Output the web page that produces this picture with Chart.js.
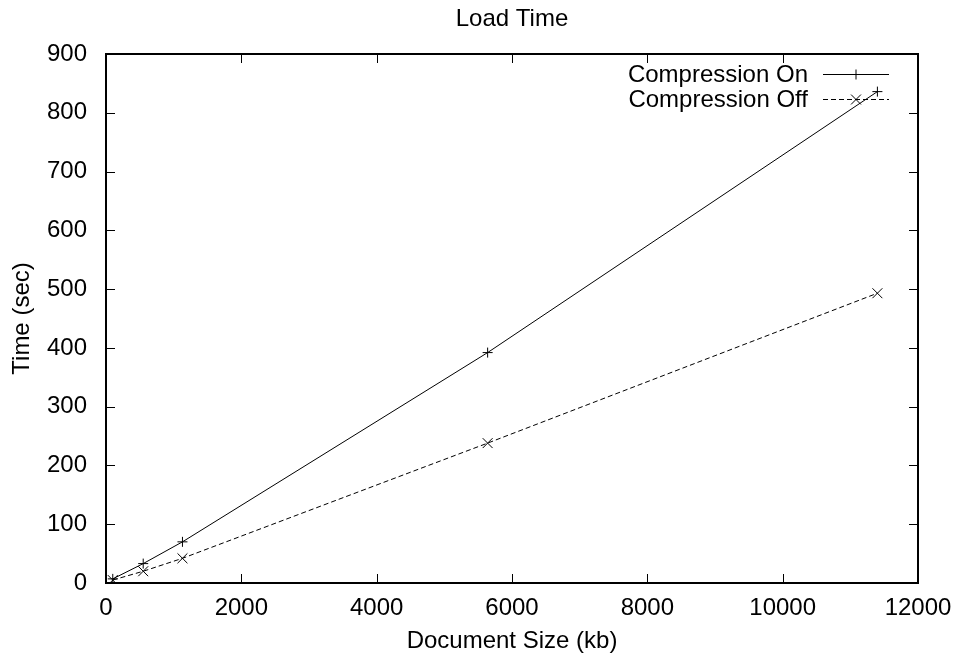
<!DOCTYPE html>
<html>
<head>
<meta charset="utf-8">
<title>Load Time</title>
<script src="https://cdn.jsdelivr.net/npm/chart.js@4"></script>
<style>
    html, body { margin: 0; padding: 0; background: #fff; }
    #wrap { width: 957px; height: 659px; }
</style>
</head>
<body>
<div id="wrap"><canvas id="loadChart" width="957" height="659"></canvas></div>
<script>
// valores
const docSizes = [100, 550, 1130, 5640, 11400];
const timeOn = [7, 33, 70, 392, 836];
const timeOff = [5, 20, 42, 238, 493];
const seriesLabels = ['Compression On', 'Compression Off'];
const xTicks = [0, 2000, 4000, 6000, 8000, 10000, 12000];
const yTicks = [0, 100, 200, 300, 400, 500, 600, 700, 800, 900];

const FONT = 'Liberation Sans, Arial, Helvetica, sans-serif';
const FONT_SIZE = 24;

function toPoints(ys) {
    return docSizes.map((x, i) => ({ x: x, y: ys[i] }));
}

// moldura, ticks para dentro, título e legenda no estilo gnuplot
const gnuplotFrame = {
    id: 'gnuplotFrame',
    afterDraw(chart) {
        const ctx = chart.ctx;
        const area = chart.chartArea;
        const xs = chart.scales.x;
        const ys = chart.scales.y;
        const tick = 9;

        ctx.save();
        ctx.strokeStyle = '#000';
        ctx.lineWidth = 1;
        ctx.setLineDash([]);

        xTicks.forEach(v => {
            const px = Math.round(xs.getPixelForValue(v)) + 0.5;
            ctx.beginPath();
            ctx.moveTo(px, area.bottom);
            ctx.lineTo(px, area.bottom - tick);
            ctx.moveTo(px, area.top);
            ctx.lineTo(px, area.top + tick);
            ctx.stroke();
        });
        yTicks.forEach(v => {
            const py = Math.round(ys.getPixelForValue(v)) + 0.5;
            ctx.beginPath();
            ctx.moveTo(area.left, py);
            ctx.lineTo(area.left + tick, py);
            ctx.moveTo(area.right, py);
            ctx.lineTo(area.right - tick, py);
            ctx.stroke();
        });

        ctx.lineWidth = 2;
        ctx.strokeRect(area.left, area.top, area.right - area.left, area.bottom - area.top);

        // título
        ctx.fillStyle = '#000';
        ctx.font = FONT_SIZE + 'px ' + FONT;
        ctx.textAlign = 'center';
        ctx.textBaseline = 'middle';
        ctx.fillText('Load Time', (area.left + area.right) / 2, 19);

        // legenda
        ctx.textAlign = 'right';
        chart.data.datasets.forEach((ds, i) => {
            const y = area.top + 20 + i * 25;
            ctx.fillStyle = '#000';
            ctx.fillText(ds.label, area.right - 110, y + 1);
            ctx.lineWidth = 1;
            ctx.setLineDash(ds.borderDash || []);
            ctx.beginPath();
            ctx.moveTo(area.right - 95, y + 0.5);
            ctx.lineTo(area.right - 29, y + 0.5);
            ctx.stroke();
            ctx.setLineDash([]);
        });
        ctx.restore();

        // marcadores da legenda
        chart.data.datasets.forEach((ds, i) => {
            const y = area.top + 20 + i * 25;
            ctx.save();
            ctx.strokeStyle = '#000';
            ctx.lineWidth = 1;
            Chart.helpers.drawPoint(ctx, {
                pointStyle: ds.pointStyle,
                radius: ds.pointRadius,
                borderWidth: 1,
                rotation: 0
            }, area.right - 62, y + 0.5);
            ctx.restore();
        });
    }
};

new Chart(document.getElementById('loadChart'), {
    type: 'scatter',
    data: {
        datasets: [
            {
                label: seriesLabels[0],
                data: toPoints(timeOn),
                showLine: true,
                borderColor: '#000',
                backgroundColor: '#000',
                borderWidth: 1,
                pointStyle: 'cross',
                pointRadius: 5,
                pointBorderWidth: 1
            },
            {
                label: seriesLabels[1],
                data: toPoints(timeOff),
                showLine: true,
                borderColor: '#000',
                backgroundColor: '#000',
                borderWidth: 1,
                borderDash: [5, 3],
                pointStyle: 'crossRot',
                pointRadius: 7,
                pointBorderWidth: 1
            }
        ]
    },
    options: {
        responsive: false,
        animation: false,
        layout: { padding: { top: 54, right: 39, left: 0, bottom: 0 } },
        plugins: {
            legend: { display: false },
            title: { display: false },
            tooltip: { enabled: false }
        },
        scales: {
            x: {
                type: 'linear',
                min: 0,
                max: 12000,
                afterBuildTicks: (scale) => { scale.ticks = xTicks.map(v => ({ value: v })); },
                afterFit: (scale) => { scale.height = 76; },
                grid: { display: false },
                border: { display: false },
                ticks: {
                    color: '#000',
                    padding: 3,
                    font: { family: FONT, size: FONT_SIZE },
                    maxRotation: 0,
                    callback: (v) => String(v)
                },
                title: {
                    display: true,
                    text: 'Document Size (kb)',
                    color: '#000',
                    font: { family: FONT, size: FONT_SIZE },
                    padding: { top: 0, bottom: 3 }
                }
            },
            y: {
                type: 'linear',
                min: 0,
                max: 900,
                afterBuildTicks: (scale) => { scale.ticks = yTicks.map(v => ({ value: v })); },
                afterFit: (scale) => { scale.width = 106; },
                grid: { display: false },
                border: { display: false },
                ticks: {
                    color: '#000',
                    padding: 11,
                    font: { family: FONT, size: FONT_SIZE },
                    callback: (v) => String(v)
                },
                title: {
                    display: true,
                    text: 'Time (sec)',
                    color: '#000',
                    font: { family: FONT, size: FONT_SIZE },
                    padding: { top: 8, bottom: 0 }
                }
            }
        }
    },
    plugins: [gnuplotFrame]
});
</script>
</body>
</html>
